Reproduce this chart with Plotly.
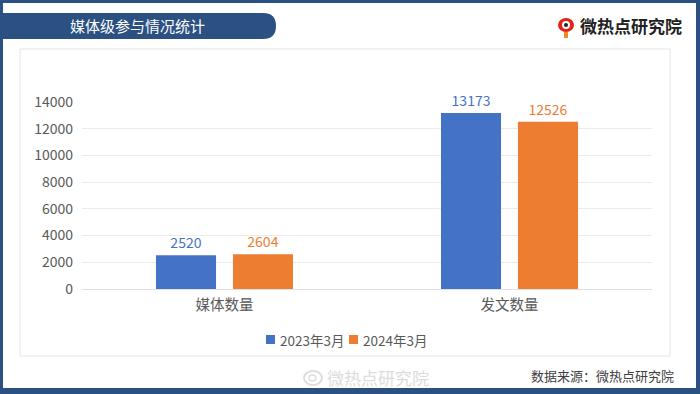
import plotly.graph_objects as go

W, H = 700, 394
categories = ["媒体数量", "发文数量"]
series_names = ["2023年3月", "2024年3月"]
values_2023 = [2520, 13173]
values_2024 = [2604, 12526]
colors = ["#4472C4", "#ED7D31"]
y_ticks = [0, 2000, 4000, 6000, 8000, 10000, 12000, 14000]

FONT = "Microsoft YaHei, Noto Sans CJK SC, sans-serif"

def px(x):
    return x / W

def py(y):
    return 1 - y / H

fig = go.Figure()
for name, vals, c in zip(series_names, [values_2023, values_2024], colors):
    fig.add_trace(go.Bar(
        x=categories, y=vals, name=name, marker=dict(color=c, line=dict(width=0)),
        text=[str(v) for v in vals], textposition="outside",
        textfont=dict(color=c, size=14, family=FONT), cliponaxis=False,
        showlegend=False,
    ))

frame = "#2B5082"
shapes = []
for x0, y0, x1, y1 in [(0, 0, 3, 394), (0, 0, 700, 3), (696, 0, 700, 394), (0, 388, 700, 394)]:
    shapes.append(dict(type="rect", xref="paper", yref="paper", x0=px(x0), x1=px(x1),
                       y0=py(y1), y1=py(y0), fillcolor=frame, line=dict(width=0), layer="below"))
shapes.append(dict(type="rect", xref="paper", yref="paper", x0=px(20), x1=px(670),
                   y0=py(356), y1=py(49), fillcolor="rgba(0,0,0,0)",
                   line=dict(color="#e4e4e4", width=1), layer="below"))
y1b, y2b, xr, r = 13, 39, 276, 13
path = (f"M {px(0)},{py(y1b)} L {px(xr - r)},{py(y1b)} "
        f"Q {px(xr)},{py(y1b)} {px(xr)},{py((y1b + y2b) / 2)} "
        f"Q {px(xr)},{py(y2b)} {px(xr - r)},{py(y2b)} L {px(0)},{py(y2b)} Z")
shapes.append(dict(type="path", xref="paper", yref="paper", path=path,
                   fillcolor=frame, line=dict(width=0), layer="below"))
shapes.append(dict(type="circle", xref="paper", yref="paper", x0=px(558), x1=px(574),
                   y0=py(32), y1=py(18), fillcolor="#E2231A", line=dict(width=0)))
shapes.append(dict(type="circle", xref="paper", yref="paper", x0=px(562), x1=px(570),
                   y0=py(29), y1=py(21), fillcolor="#ffffff", line=dict(width=0)))
shapes.append(dict(type="circle", xref="paper", yref="paper", x0=px(564), x1=px(568),
                   y0=py(27), y1=py(23), fillcolor="#222222", line=dict(width=0)))
shapes.append(dict(type="rect", xref="paper", yref="paper", x0=px(564), x1=px(568),
                   y0=py(38), y1=py(32), fillcolor="#F08A24", line=dict(width=0)))
shapes.append(dict(type="circle", xref="paper", yref="paper", x0=px(304), x1=px(322),
                   y0=py(385), y1=py(371), fillcolor="rgba(0,0,0,0)",
                   line=dict(color="#dddddd", width=2)))
shapes.append(dict(type="circle", xref="paper", yref="paper", x0=px(309), x1=px(316),
                   y0=py(381), y1=py(375), fillcolor="rgba(0,0,0,0)",
                   line=dict(color="#dddddd", width=1.5)))

annotations = [
    dict(text="媒体级参与情况统计", x=px(137), y=py(26), xref="paper", yref="paper",
         xanchor="center", yanchor="middle", showarrow=False,
         font=dict(color="#ffffff", size=15, family=FONT)),
    dict(text="<b>微热点研究院</b>", x=px(578), y=py(26), xref="paper", yref="paper",
         xanchor="left", yanchor="middle", showarrow=False,
         font=dict(color="#222222", size=17, family=FONT)),
    dict(text="数据来源：微热点研究院", x=px(676), y=py(375), xref="paper", yref="paper",
         xanchor="right", yanchor="middle", showarrow=False,
         font=dict(color="#404040", size=13, family=FONT)),
    dict(text="微热点研究院", x=px(325), y=py(377), xref="paper", yref="paper",
         xanchor="left", yanchor="middle", showarrow=False,
         font=dict(color="#dcdcdc", size=17, family=FONT)),
]

# manual compact legend
legend_x = [266, 349]
for lx, name, c in zip(legend_x, series_names, colors):
    shapes.append(dict(type="rect", xref="paper", yref="paper", x0=px(lx), x1=px(lx + 9),
                       y0=py(344), y1=py(335), fillcolor=c, line=dict(width=0)))
    annotations.append(dict(text=name, x=px(lx + 12), y=py(340), xref="paper", yref="paper",
                            xanchor="left", yanchor="middle", showarrow=False,
                            font=dict(color="#595959", size=13.5, family=FONT)))

fig.update_layout(
    width=W, height=H, margin=dict(l=0, r=0, t=0, b=0, autoexpand=False),
    paper_bgcolor="#ffffff", plot_bgcolor="#ffffff",
    barmode="group", bargap=0.46, bargroupgap=0.22,
    font=dict(family=FONT, color="#595959", size=14),
    xaxis=dict(domain=[px(82), px(652)], showline=False, ticks="",
               ticklabelstandoff=5,
               tickfont=dict(size=14.5, color="#595959"), fixedrange=True),
    yaxis=dict(domain=[py(289), py(102)], range=[0, 14000], tickvals=y_ticks,
               tickformat="d", showgrid=True, gridcolor="#ebebeb", gridwidth=1,
               zeroline=True, zerolinecolor="#e0e0e0", zerolinewidth=1, showline=False,
               ticks="", ticklabelstandoff=8, tickfont=dict(size=14, color="#595959"),
               fixedrange=True),
    shapes=shapes, annotations=annotations, showlegend=False,
)

fig.write_html("out.html", post_script="document.body.style.margin='0';",
               config={"displayModeBar": False})
